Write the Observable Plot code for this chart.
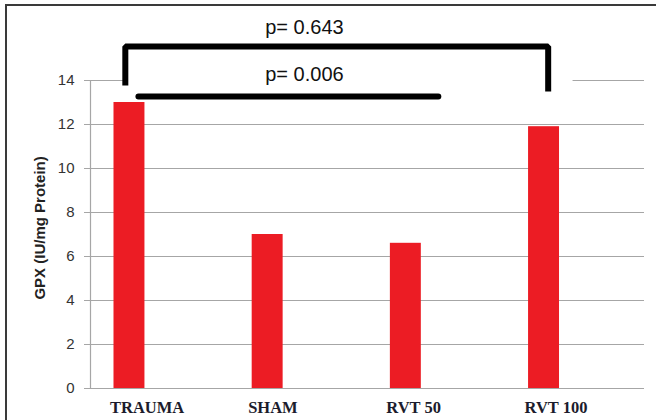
<!DOCTYPE html>
<html>
<head>
<meta charset="utf-8">
<script src="https://cdn.jsdelivr.net/npm/d3@7"></script>
<script src="https://cdn.jsdelivr.net/npm/@observablehq/plot@0.6"></script>
<style>
  html, body { margin: 0; padding: 0; background: #fff; }
  #wrap { position: relative; width: 656px; height: 420px; overflow: hidden; background: #fff; }
  #border { position: absolute; left: 5px; top: 4px; width: 700px; height: 500px; border: 2px solid #3a3a3a; }
  #chart { position: absolute; left: 0; top: 0; }
</style>
</head>
<body>
<div id="wrap"><div id="border"></div><div id="chart"></div></div>
<script>
// Data
const categories = ["TRAUMA", "SHAM", "RVT 50", "RVT 100"];
const values = [13.0, 7.0, 6.6, 11.9];
const yTicks = [0, 2, 4, 6, 8, 10, 12, 14];
const yLabel = "GPX (IU/mg Protein)";

// Significance annotations (x in category-index units, y in data units)
const bracketTop = [[-0.03, 13.77], [-0.03, 15.55], [3.03, 15.55], [3.03, 13.5]];
const bracketLow = [[0.065, 13.27], [2.235, 13.27]];
const pLabels = ["p= 0.643", "p= 0.006"];
const pLabelPos = [[1.266, 16.41], [1.266, 14.27]];
const gridMask = [[-0.014, 3.21, 13.85, 14.15]];

const bars = categories.map((c, i) => ({c, i, v: values[i]}));
const half = 0.112;

const plot = Plot.plot({
  width: 656,
  height: 420,
  marginLeft: 90,
  marginRight: 12,
  marginTop: 80,
  marginBottom: 32,
  style: {background: "transparent", fontFamily: "'Liberation Sans', Arial, sans-serif"},
  x: {type: "linear", domain: [-0.282, 3.727], axis: null},
  y: {domain: [0, 14], axis: null},
  marks: [
    Plot.gridY(yTicks, {stroke: "#a6a6a6", strokeOpacity: 1, strokeWidth: 1.2}),
    Plot.rect(gridMask, {x1: d => d[0], x2: d => d[1], y1: d => d[2], y2: d => d[3], fill: "white"}),
    Plot.frame({anchor: "left", stroke: "#a6a6a6", strokeWidth: 1.2}),
    Plot.axisY({ticks: yTicks, tickSize: 6, tickPadding: 10, fontSize: 15, stroke: "#a6a6a6", color: "#333", label: null}),
    Plot.rect(bars, {x1: d => d.i - half, x2: d => d.i + half, y1: 0, y2: "v", fill: "#ec1c24"}),
    Plot.text(bars, {x: d => d.i - half, y: 0, text: "c", textAnchor: "start", dx: -4, dy: 19,
      fontFamily: "'Liberation Serif', 'Times New Roman', serif", fontWeight: "bold", fontSize: 16.5, fill: "#1c1c2c"}),
    Plot.line(bracketTop, {x: d => d[0], y: d => d[1], stroke: "black", strokeWidth: 6, strokeLinejoin: "miter", strokeLinecap: "butt"}),
    Plot.line(bracketLow, {x: d => d[0], y: d => d[1], stroke: "black", strokeWidth: 6, strokeLinecap: "round"}),
    Plot.text(pLabels, {x: (d, i) => pLabelPos[i][0], y: (d, i) => pLabelPos[i][1], text: d => d, fontSize: 20, fill: "#111"}),
    Plot.text([yLabel], {x: -0.282, y: 7.3, dx: -50, text: d => d, rotate: -90, textAnchor: "middle",
      fontSize: 15, fontWeight: "bold", fill: "#222", letterSpacing: 0.5})
  ]
});
document.getElementById("chart").appendChild(plot);
</script>
</body>
</html>
